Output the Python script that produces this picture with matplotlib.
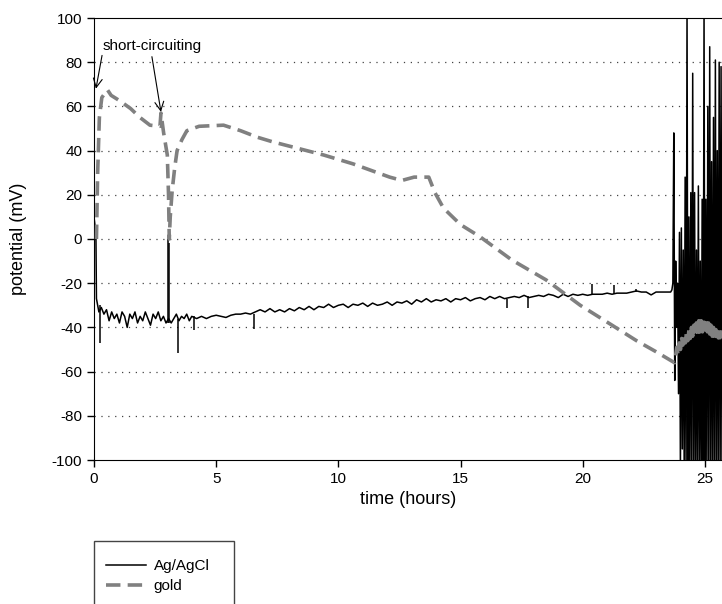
import numpy as np
import matplotlib
matplotlib.use("Agg")
import matplotlib.pyplot as plt
from matplotlib.patches import Rectangle

plt.rcParams['font.family'] = ['Liberation Sans', 'DejaVu Sans']
plt.rcParams['axes.unicode_minus'] = False

# gold electrode, key points (hours, mV)
gold_t = [0.1, 0.15, 0.22, 0.32, 0.55, 0.7, 1.06, 1.5, 1.88, 2.29, 2.7, 2.74, 2.85,
          3.0, 3.05, 3.08, 3.12, 3.2, 3.3, 3.4, 3.6, 3.8, 4.3, 5.3, 6.0, 6.7, 7.3,
          8.0, 8.7, 9.4, 10.0, 10.6, 11.1, 11.6, 12.1, 12.6, 13.1, 13.7, 13.95,
          14.3, 15.0, 15.8, 17.1, 18.5, 19.9, 21.2, 22.2, 23.0, 23.76]
gold_v = [0, 30, 55, 64, 67.5, 65, 62.5, 59, 55, 51.5, 51, 57, 48,
          38, 20, 0, 10, 22, 32, 40, 45, 49, 51, 51.5, 49, 46, 44,
          42, 40, 38, 36, 34, 32, 30, 28, 26.5, 28, 28, 21,
          14, 6.5, 1, -9.5, -18.5, -30, -39, -46, -51, -56]
# gold, noisy tail 23.8 .. 25.7 h
gold_tail = [-53, -49, -52, -47, -50, -45, -48, -43, -47, -42, -46, -41, -45, -40,
             -44, -39, -43, -38, -43, -37, -42, -37, -42, -36, -41, -37, -42, -38,
             -43, -39, -44, -40, -45, -41, -46, -42, -46, -42, -45]

# Ag/AgCl reference
agcl_t0 = [0.0, 0.05, 0.08, 0.1, 0.15, 0.2]
agcl_v0 = [10, 5, 0, -27, -30, -33]
# 0.3 .. 3.9 h
agcl_early = [-31, -34, -32, -37, -33, -36, -34, -38, -33, -35, -40, -34, -36, -33,
              -38, -35, -37, -33, -36, -39, -34, -36, -33, -37, -35, -38, -36,
              -38, -36, -34, -37, -35, -36, -34, -37]
# 4.0 .. 23.6 h
agcl_mid = [-35, -36, -35, -36, -35, -34.5, -35, -35.5, -34.5, -34, -34, -33.5, -34,
            -33, -32, -33, -31.5, -33, -32, -33, -31.5, -32.5, -31, -32, -30.5, -32,
            -30.5, -31, -29.5, -31, -30, -29.5, -31, -29.5, -30, -29, -30.5, -29, -30,
            -29.5, -28.5, -30, -28.5, -29, -28, -29.5, -27.5, -28.5, -27, -28.5, -27.5,
            -28, -27, -28.5, -27, -27.5, -26.5, -28, -27, -26.5, -27.5, -26, -27, -26,
            -27, -26.5, -26, -26.5, -25.5, -26.5, -26, -25.5, -26, -25, -25.5, -26.5,
            -25, -26, -25, -25.5, -25, -25.5, -25, -25, -25, -24.5, -25, -24.5, -24.5,
            -24.5, -24, -23.5, -24, -24, -25.3, -24, -24, -24, -24]
# 23.65 .. 25.7 h, the oscillating end
agcl_end = [-23, -20, 48, -64, -10, -40, -20, -70, 3, -105, 5, -95, -5, -105, 28,
            -110, 105, -105, 10, -110, 21, -105, 75, -108, 21, -110, -5, -105, 24,
            -108, -10, -110, 18, -105, 105, -110, 18, -105, 60, -110, 87, -105, 35,
            -110, 55, -108, 81, -110, 40, -105, 80, -110, 78, -105]

# narrow spikes on the Ag/AgCl trace
spike_t = [0.25, 3.03, 3.06, 3.45, 4.1, 6.55, 16.9, 17.75, 20.4, 21.3, 22.2]
spike_from = [-30, -38, -38, -36, -35, -34, -27, -26, -25, -25, -24]
spike_to = [-47, 0, -2, -51.5, -41, -40.5, -31, -31, -20.5, -21, -22.5]

agcl_t = np.concatenate([agcl_t0,
                         np.linspace(0.3, 3.9, len(agcl_early)),
                         np.linspace(4.0, 23.6, len(agcl_mid)),
                         np.linspace(23.65, 25.7, len(agcl_end))])
agcl_v = np.concatenate([agcl_v0, agcl_early, agcl_mid, agcl_end])

gold_all_t = np.concatenate([gold_t, np.linspace(23.8, 25.7, len(gold_tail))])
gold_all_v = np.concatenate([gold_v, gold_tail])

fig = plt.figure(figsize=(7.22, 6.04), dpi=100)
ax = fig.add_axes([94 / 722, 1 - 460 / 604, 1 - 94 / 722, 442 / 604])

ax.plot(agcl_t, agcl_v, color='black', lw=1.1, label='Ag/AgCl', zorder=3)
ax.vlines(spike_t, spike_from, spike_to, color='black', lw=1.1, zorder=3)
ax.plot(gold_all_t, gold_all_v, color='#808080', lw=2.6, ls=(0, (4, 2)),
        label='gold', zorder=4)

ax.set_xlim(0, 25.7)
ax.set_ylim(-100, 100)
ax.set_xticks([0, 5, 10, 15, 20, 25])
ax.set_yticks(np.arange(-100, 101, 20))
ax.tick_params(direction='out', length=5, width=1, labelsize=11)
for y in np.arange(-80, 100, 20):
    ax.axhline(y, color='#444444', lw=0.9, ls=(0, (1, 4.5)), zorder=1)
ax.spines['right'].set_visible(False)

ax.set_xlabel('time (hours)', fontsize=13, labelpad=4)
ax.set_ylabel('potential (mV)', fontsize=13, labelpad=18)

arw = dict(arrowstyle='->', color='black', lw=0.8, mutation_scale=16)
ax.annotate('short-circuiting', xy=(0.08, 68), xytext=(0.35, 87.5),
            fontsize=11, va='center', ha='left',
            arrowprops=dict(arw, shrinkA=0, shrinkB=0, relpos=(0.0, 0.0)))
ax.annotate('', xy=(2.74, 57.5), xytext=(2.37, 82.5),
            arrowprops=dict(arw, shrinkA=0, shrinkB=0))

leg = fig.legend(loc='upper left', bbox_to_anchor=(100 / 722, 1 - 553 / 604),
                 frameon=False, fontsize=11, handlelength=2.6, handletextpad=0.5,
                 labelspacing=0.4, borderaxespad=0)
fig.patches.append(Rectangle((94 / 722, 1 - 630 / 604), 140 / 722, 89 / 604,
                             transform=fig.transFigure, fill=False,
                             edgecolor='#444444', lw=1))

fig.savefig('out.png', dpi=100)
